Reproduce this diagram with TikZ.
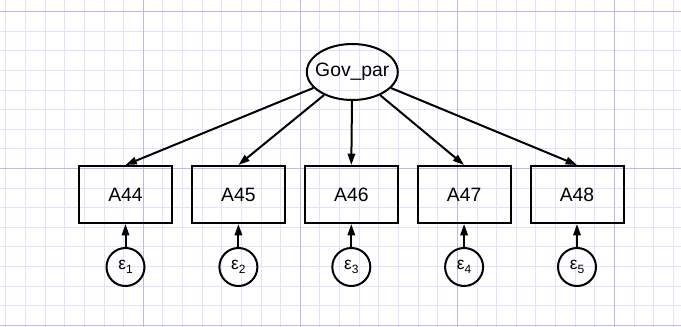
\documentclass[tikz,border=0pt]{standalone}
\usepackage{fontspec}
\setmainfont{Liberation Sans}
\usetikzlibrary{shapes.geometric,arrows.meta}
\definecolor{gridminor}{RGB}{226,226,252}
\definecolor{gridmajor}{RGB}{186,186,242}
\newcommand{\errlabel}[1]{ε{\fontsize{9}{10}\selectfont\raisebox{-2.5pt}{#1}}}
\begin{document}
\begin{tikzpicture}[x=0.75pt,y=-0.75pt,
  latent/.style={ellipse,draw,line width=1.5pt,minimum width=68.25pt,minimum height=42pt,
    inner sep=0pt,font=\fontsize{14.5}{16}\selectfont},
  indicator/.style={rectangle,draw,line width=1.5pt,minimum width=69.75pt,minimum height=42.75pt,
    inner sep=0pt,font=\fontsize{14.5}{16}\selectfont},
  errterm/.style={circle,draw,line width=1.5pt,minimum size=28.5pt,inner sep=0pt,
    font=\fontsize{13}{15}\selectfont},
  loading/.style={line width=1.5pt,-{Triangle[length=8.5pt,width=5.5pt]}},
  minorline/.style={gridminor,line width=0.75pt},
  majorline/.style={gridmajor,line width=0.75pt},
]
% canvas and grid
\fill[white] (0,0) rectangle (681,327);
\useasboundingbox (0,0) rectangle (681,327);
\foreach \k in {-7,...,27} {\draw[minorline] ({143.3+19.63*\k},0) -- ({143.3+19.63*\k},327);}
\foreach \k in {0,...,16} {\draw[minorline] (0,{11.7+19.6*\k}) -- (681,{11.7+19.6*\k});}
\foreach \k in {0,...,3} {\draw[majorline] ({143.3+157.05*\k},0) -- ({143.3+157.05*\k},327);}
\foreach \k in {0,...,2} {\draw[majorline] (0,{11.7+156.8*\k}) -- (681,{11.7+156.8*\k});}

% latent factor (label boxed at zero width so the ellipse keeps its set size)
\node[latent] (gov) at (352.3,72) {\makebox[0pt]{Gov\_par}};

% indicators and their error terms
\foreach \name/\x/\e in {A44/125.5/1,A45/238.4/2,A46/351.3/3,A47/464.1/4,A48/577/5} {
  \node[indicator] (\name) at (\x,194.5) {\name};
  \node[errterm] (e\e) at (\x,267) {\errlabel{\e}};
  \draw[loading] (gov) -- (\name.north);
  \draw[loading] (e\e) -- (\name.south);
}
\end{tikzpicture}
\end{document}
